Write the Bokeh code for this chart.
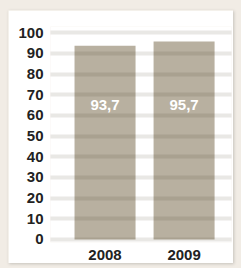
from bokeh.plotting import figure
from bokeh.models import Range1d, FixedTicker, ColumnDataSource
from bokeh.layouts import column
from bokeh.core.properties import value
from bokeh.embed import file_html
from bokeh.resources import INLINE

years = ["2008", "2009"]
values = [93.7, 95.7]
y_ticks = [0, 10, 20, 30, 40, 50, 60, 70, 80, 90, 100]

xpos = [0.5 + i for i in range(len(years))]
labels = [f"{v:.1f}".replace(".", ",") for v in values]
src = ColumnDataSource(dict(x=xpos, top=values, label=labels, ly=[65] * len(values)))

fig = figure(width=225, height=253, output_backend="svg", toolbar_location=None,
             x_range=Range1d(-0.19, 2.10), y_range=Range1d(-1.5, 103),
             min_border_left=42, min_border_right=2, min_border_top=16, min_border_bottom=21,
             margin=(10, 8, 5, 8),
             styles={"box-shadow": "1px 1px 3px rgba(0,0,0,0.18)"})
fig.outline_line_color = None
fig.background_fill_color = "white"
fig.border_fill_color = "white"

fig.vbar(x="x", top="top", bottom=0, width=0.772, source=src,
         fill_color="#b8b0a0", line_color=None)
fig.text(x="x", y="ly", text="label", source=src, text_color="white",
         text_font=value("Liberation Sans"), text_font_style="bold",
         text_font_size="15px", text_align="center", text_baseline="middle")

fig.xgrid.grid_line_color = None
fig.ygrid.ticker = FixedTicker(ticks=y_ticks)
fig.ygrid.grid_line_color = "#3a2a10"
fig.ygrid.grid_line_alpha = 0.11
fig.ygrid.grid_line_width = 4
fig.ygrid.level = "overlay"

fig.yaxis.ticker = FixedTicker(ticks=y_ticks)
fig.xaxis.ticker = FixedTicker(ticks=xpos)
fig.xaxis.major_label_overrides = {x: y for x, y in zip(xpos, years)}
for ax in (fig.xaxis[0], fig.yaxis[0]):
    ax.axis_line_color = None
    ax.major_tick_line_color = None
    ax.minor_tick_line_color = None
    ax.major_label_text_font = "Liberation Sans"
    ax.major_label_text_font_style = "bold"
    ax.major_label_text_font_size = "15px"
    ax.major_label_text_color = "#222222"
fig.yaxis.major_label_standoff = 1
fig.xaxis.major_label_standoff = 1

p = column(fig, width=241, height=268, styles={"background-color": "#f1ece5"})

open("out.html", "w").write(file_html(p, INLINE))
